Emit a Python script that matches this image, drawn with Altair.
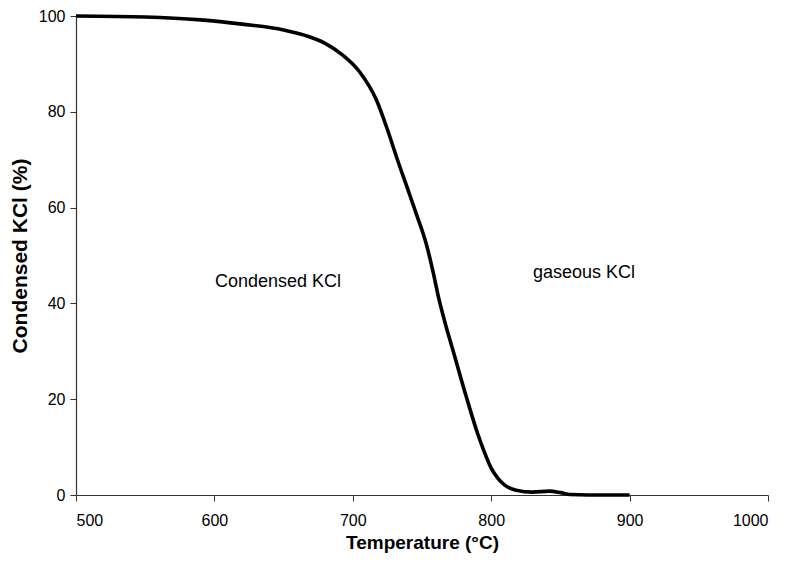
import altair as alt
import pandas as pd

# Condensed fraction of KCl versus temperature
temperature = [500, 550, 590, 620, 650, 665, 680, 692, 705, 717, 725, 732, 740, 746,
               753, 758, 762, 767, 772, 782, 790, 795, 800, 805, 810, 818, 830, 842,
               850, 857, 870, 900]
condensed = [100, 99.8, 99.2, 98.3, 97.1, 96.0, 94.3, 92.0, 88.3, 82.5, 76.3, 70.2, 63.6, 58.6,
             52.5, 46.6, 41.2, 35.6, 30.6, 20.5, 13.0, 9.0, 5.6, 3.4, 2.0, 1.0, 0.6, 0.8,
             0.5, 0.1, 0.0, 0.0]

label_text = ["Condensed KCl", "gaseous KCl"]
label_x = [646, 867]
label_y = [44.5, 46.4]

curve = pd.DataFrame({"T": temperature, "KCl": condensed})
labels = pd.DataFrame({"text": label_text, "T": label_x, "KCl": label_y})

x_scale = alt.Scale(domain=[500, 1000], nice=False, zero=False)
y_scale = alt.Scale(domain=[0, 100], nice=False)

line = alt.Chart(curve).mark_line(
    color="black", strokeWidth=3.6, interpolate="monotone"
).encode(
    x=alt.X("T:Q", scale=x_scale,
            axis=alt.Axis(title="Temperature (°C)", format="d", titleFontSize=19,
                          values=[500, 600, 700, 800, 900, 1000])),
    y=alt.Y("KCl:Q", scale=y_scale,
            axis=alt.Axis(title="Condensed KCl (%)", format="d", titleFontSize=21,
                          values=[0, 20, 40, 60, 80, 100])),
)

text = alt.Chart(labels).mark_text(
    font="Liberation Sans", fontSize=18, color="black"
).encode(
    x=alt.X("T:Q", scale=x_scale),
    y=alt.Y("KCl:Q", scale=y_scale),
    text="text:N",
)

chart = (line + text).properties(
    width=692, height=479,
    autosize=alt.AutoSizeParams(type="none"),
    padding={"left": 76, "top": 16, "right": 20, "bottom": 72},
).configure_view(stroke=None).configure_axis(
    grid=False,
    domainColor="#333333",
    domainWidth=1.2,
    tickColor="#333333",
    tickSize=6,
    labelFont="Liberation Sans",
    labelFontSize=16,
    labelColor="black",
    titleFont="Liberation Sans",
    titleFontWeight="bold",
    titleColor="black",
).configure_axisX(
    labelPadding=11, titlePadding=5
).configure_axisY(
    labelPadding=5, titlePadding=8
)

chart.save("out.html", embed_options={"renderer": "svg", "actions": False})
